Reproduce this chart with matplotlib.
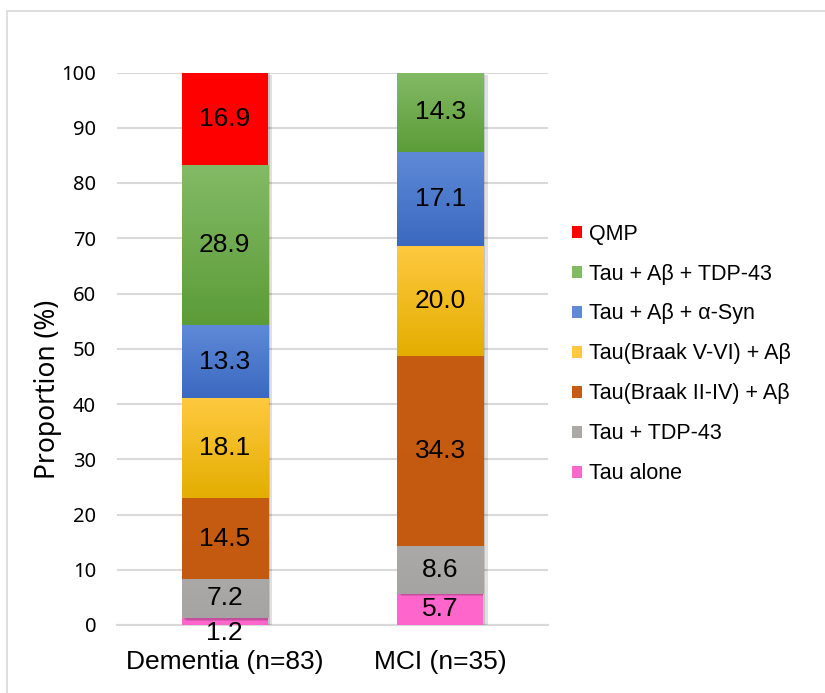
import matplotlib
matplotlib.use("Agg")
import matplotlib.pyplot as plt
import numpy as np
from matplotlib.colors import LinearSegmentedColormap
from matplotlib.patches import Patch, Rectangle
import matplotlib.patheffects as pe

groups = ["Dementia (n=83)", "MCI (n=35)"]
categories = ["Tau alone", "Tau + TDP-43", "Tau(Braak II-IV) + Aβ",
              "Tau(Braak V-VI) + Aβ", "Tau + Aβ + α-Syn",
              "Tau + Aβ + TDP-43", "QMP"]
dementia = [1.2, 7.2, 14.5, 18.1, 13.3, 28.9, 16.9]
mci = [5.7, 8.6, 34.3, 20.0, 17.1, 14.3, 0.0]
yticks = [0, 10, 20, 30, 40, 50, 60, 70, 80, 90, 100]

# (top colour, bottom colour) per category
colors = [("#FF66CC", "#FF66CC"),
          ("#ABA8A8", "#A6A3A3"),
          ("#C65B12", "#C45910"),
          ("#FFC941", "#E3AE00"),
          ("#5F8AD8", "#3B69C0"),
          ("#83BA66", "#5C9C38"),
          ("#FF0000", "#FF0000")]

fig = plt.figure(figsize=(8.25, 6.93), dpi=100)
ax = fig.add_axes([117/825, 1-625/693, (548-117)/825, (625-72.5)/693])

# outer frame
fig.patches.append(Rectangle((7/825, -0.1), 1.2, 1-11/693+0.1, transform=fig.transFigure,
                             fill=False, edgecolor="#D9D9D9", linewidth=1.2))

x = np.arange(len(groups))
width = 0.4
values = np.array([dementia, mci])
bottoms = np.zeros(len(groups))

shadow = [pe.SimplePatchShadow(offset=(3, -2), shadow_rgbFace="#000000", alpha=0.12),
          pe.SimplePatchShadow(offset=(1.5, -1), shadow_rgbFace="#000000", alpha=0.12),
          pe.Normal()]

for i, cat in enumerate(categories):
    vals = values[:, i]
    top_c, bot_c = colors[i]
    bars = ax.bar(x, vals, width, bottom=bottoms, color=bot_c, edgecolor="none",
                  zorder=3, path_effects=shadow)
    if top_c != bot_c:
        cmap = LinearSegmentedColormap.from_list("g%d" % i, [bot_c, top_c])
        grad = np.linspace(0, 1, 256).reshape(-1, 1)
        for b in bars:
            if b.get_height() <= 0:
                continue
            x0, y0 = b.get_x(), b.get_y()
            im = ax.imshow(grad, extent=[x0, x0 + b.get_width(), y0, y0 + b.get_height()],
                           origin="lower", cmap=cmap, aspect="auto", zorder=3.5,
                           interpolation="bilinear")
            im.set_clip_path(b)
    for j, b in enumerate(bars):
        v = vals[j]
        if v <= 0:
            continue
        cy = bottoms[j] + v / 2
        off = -8 if v < 3 else 0
        ax.annotate("%.1f" % v, (x[j], cy), xytext=(0, off), textcoords="offset points",
                    ha="center", va="center", fontsize=19, family="Liberation Sans",
                    color="black", zorder=5)
    bottoms = bottoms + vals

ax.set_xlim(-0.5, 1.5)
ax.set_ylim(0, 100)
ax.set_yticks(yticks)
ax.set_yticklabels([str(t) for t in yticks], family="Noto Sans", fontsize=14.5)
ax.set_xticks(x)
ax.set_xticklabels(groups, family="Liberation Sans", fontsize=19)
ax.tick_params(axis="both", length=0)
ax.tick_params(axis="y", pad=15)
ax.tick_params(axis="x", pad=18)
ax.yaxis.grid(True, color="#D9D9D9", linewidth=1.5, zorder=0)
ax.set_axisbelow(True)
for s in ["top", "right", "left"]:
    ax.spines[s].set_visible(False)
ax.spines["bottom"].set_color("#D9D9D9")
ax.spines["bottom"].set_linewidth(1.5)
ax.set_ylabel("Proportion (%)", family="Noto Sans", fontsize=19)
ax.yaxis.set_label_coords(-0.128, 0.427)

handles = [Patch(facecolor=colors[i][0], edgecolor="none") for i in range(len(categories))][::-1]
leg = fig.legend(handles, categories[::-1], loc="upper left",
                 bbox_to_anchor=(563/825, 1-215/693), frameon=False,
                 prop={"family": "Liberation Sans", "size": 15.5},
                 handlelength=0.5, handleheight=0.5, handletextpad=0.3,
                 labelspacing=0.88, borderaxespad=0)

fig.savefig("out.png", dpi=100)
